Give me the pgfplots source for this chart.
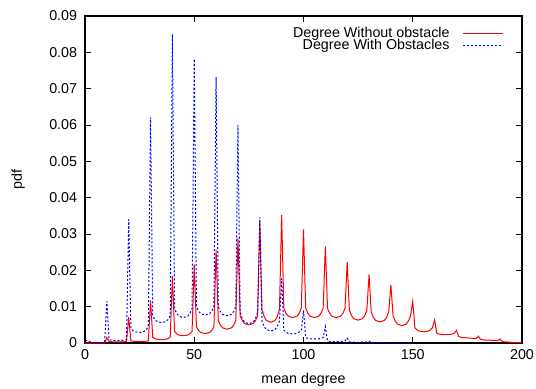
\documentclass[border=0pt]{standalone}
\usepackage{fontspec}
\setmainfont{Liberation Sans}
\usepackage{pgfplots}
\pgfplotsset{compat=1.18}
\definecolor{gred}{RGB}{255,0,0}
\definecolor{gblue}{RGB}{0,0,255}
\begin{document}
\begin{tikzpicture}
\useasboundingbox (-59.5pt,-31.5pt) rectangle (315.7pt,240.1pt);
\begin{axis}[
  at={(0,0)}, anchor=south west,
  scale only axis, width=305.9pt, height=228.9pt,
  xmin=0, xmax=200, ymin=0, ymax=0.09,
  xtick={0,50,100,150,200},
  ytick={0,0.01,0.02,0.03,0.04,0.05,0.06,0.07,0.08,0.09},
  yticklabels={0,0.01,0.02,0.03,0.04,0.05,0.06,0.07,0.08,0.09},
  scaled ticks=false,
  tick align=inside,
  major tick length=4pt,
  tick style={black, line width=0.6pt},
  axis line style={black, line width=0.8pt},
  /pgf/number format/assume math mode=true,
  ticklabel style={font=\fontsize{10}{12}\selectfont},
  xticklabel style={yshift=-1pt},
  yticklabel style={xshift=-2pt},
  xlabel={mean degree},
  ylabel={pdf},
  label style={font=\fontsize{10}{12}\selectfont},
  xlabel style={at={(axis description cs:0.5,-0.113)}, anchor=center},
  ylabel style={at={(axis description cs:-0.153,0.5)}, anchor=center},
  legend cell align=right,
  legend plot pos=right,
  legend style={draw=none, fill=none, at={(0.968,0.985)}, anchor=north east,
    font=\fontsize{10}{10}\selectfont, row sep=-4pt},
]
\addlegendimage{legend image code/.code={\draw[gred, line width=0.7pt] (0pt,0pt) (7pt,0pt) -- (35pt,0pt);}}
\addlegendentry{Degree Without obstacle}
\addlegendimage{legend image code/.code={\draw[gblue, line width=0.7pt, dash pattern=on 1.4pt off 1.4pt] (0pt,0pt) (7pt,0pt) -- (35pt,0pt);}}
\addlegendentry{Degree With Obstacles}
\addplot[gred, line width=0.7pt, forget plot] coordinates {
(0,0)(9,0)(10,0.0015)
(11,0.0004)(12,0.00035)(13,0.00032)(15,0.0003)(17,0.00032)(18,0.00035)(19,0.0004)
(20,0.0071)
(21,0.0006)(22,0.00049)(23,0.00043)(25,0.0004)(27,0.00043)(28,0.00049)(29,0.0006)
(30,0.0117)
(31,0.0016)(32,0.00122)(33,0.00101)(35,0.0009)(37,0.00101)(38,0.00122)(39,0.0016)
(40,0.0184)
(41,0.0032)(42,0.00254)(43,0.00218)(45,0.0020)(47,0.00218)(48,0.00254)(49,0.0032)
(50,0.0216)
(51,0.0045)(52,0.00346)(53,0.00289)(55,0.0026)(57,0.00289)(58,0.00346)(59,0.0045)
(60,0.0257)
(61,0.0062)(62,0.00488)(63,0.00416)(65,0.0038)(67,0.00416)(68,0.00488)(69,0.0062)
(70,0.0289)
(71,0.0075)(72,0.00613)(73,0.00538)(75,0.0050)(77,0.00538)(78,0.00613)(79,0.0075)
(80,0.0336)
(81,0.0092)(82,0.00728)(83,0.00623)(85,0.0057)(87,0.00623)(88,0.00728)(89,0.0092)
(90,0.0352)
(91,0.0096)(92,0.00817)(93,0.00739)(95,0.0070)(97,0.00739)(98,0.00817)(99,0.0096)
(100,0.0313)
(101,0.0096)(102,0.00817)(103,0.00739)(105,0.0070)(107,0.00739)(108,0.00817)(109,0.0096)
(110,0.0266)
(111,0.0095)(112,0.00813)(113,0.00738)(115,0.0070)(117,0.00738)(118,0.00813)(119,0.0095)
(120,0.0223)
(121,0.0090)(122,0.00752)(123,0.00671)(125,0.0063)(127,0.00671)(128,0.00752)(129,0.0090)
(130,0.0189)
(131,0.0085)(132,0.00702)(133,0.00621)(135,0.0058)(137,0.00621)(138,0.00702)(139,0.0085)
(140,0.0160)
(141,0.0075)(142,0.00602)(143,0.00521)(145,0.0048)(147,0.00521)(148,0.00602)(149,0.0075)
(150,0.0115)
(151,0.0042)(152,0.0036)(153,0.00327)(155,0.0031)(157,0.00327)(158,0.0036)(159,0.0042)
(160,0.0063)
(161,0.0027)(162,0.00248)(163,0.00236)(165,0.0023)(167,0.00236)(168,0.00248)(169,0.0027)
(170,0.0035)
(171,0.0018)(172,0.0016)(173,0.0015)(175,0.0014)(177,0.0013)(178,0.0012)(179,0.0012)
(180,0.0019)
(181,0.0010)(182,0.0009)(183,0.0008)(185,0.0008)(187,0.0007)(188,0.0007)(189,0.0007)
(190,0.0011)
(191,0.0004)(192,0.0003)(193,0.0003)(195,0.0002)(197,0.0002)(198,0.0001)(199,0.0001)
(200,0)
};
\addplot[gblue, line width=0.7pt, dash pattern=on 1.4pt off 1.4pt, forget plot] coordinates {
(0,0.0008)(1,0.0006)(2,0.0004)(3,0.0002)(4,0.0001)(6,0.0001)(8,0.0001)(9,0.0003)
(10,0.0115)
(11,0.0009)(12,0.0008)(13,0.00073)(15,0.0007)(17,0.00073)(18,0.0008)(19,0.0009)
(20,0.0340)
(21,0.0040)(22,0.0034)(23,0.00307)(25,0.0029)(27,0.00314)(28,0.00362)(29,0.0045)
(30,0.0620)
(31,0.0075)(32,0.00646)(33,0.00589)(35,0.0056)(37,0.00589)(38,0.00646)(39,0.0075)
(40,0.0850)
(41,0.0095)(42,0.00813)(43,0.00738)(45,0.0070)(47,0.00738)(48,0.00813)(49,0.0095)
(50,0.0782)
(51,0.0100)(52,0.00874)(53,0.00805)(55,0.0077)(57,0.00805)(58,0.00874)(59,0.0100)
(60,0.0732)
(61,0.0100)(62,0.00863)(63,0.00788)(65,0.0075)(67,0.00788)(68,0.00863)(69,0.0100)
(70,0.0600)
(71,0.0085)(72,0.00674)(73,0.00578)(75,0.0053)(77,0.00578)(78,0.00674)(79,0.0085)
(80,0.0346)
(81,0.0060)(82,0.00452)(83,0.00371)(85,0.0033)(87,0.00371)(88,0.00452)(89,0.0060)
(90,0.0178)
(91,0.0035)(92,0.0030)(93,0.00265)(95,0.0025)(97,0.00265)(98,0.0030)(99,0.0035)
(100,0.0090)
(101,0.0015)(102,0.00128)(103,0.00116)(105,0.0011)(107,0.00116)(108,0.00128)(109,0.0015)
(110,0.0045)
(111,0.0006)(112,0.00049)(113,0.00043)(115,0.0004)(117,0.00043)(118,0.00049)(119,0.0006)
(120,0.0014)
(121,0.0003)(122,0.00025)(123,0.00022)(125,0.0002)(127,0.00022)(128,0.00025)(129,0.0003)
(130,0.0005)
(131,0.0001)(135,0.0001)(140,0)(150,0)
};
\end{axis}
\end{tikzpicture}
\end{document}
